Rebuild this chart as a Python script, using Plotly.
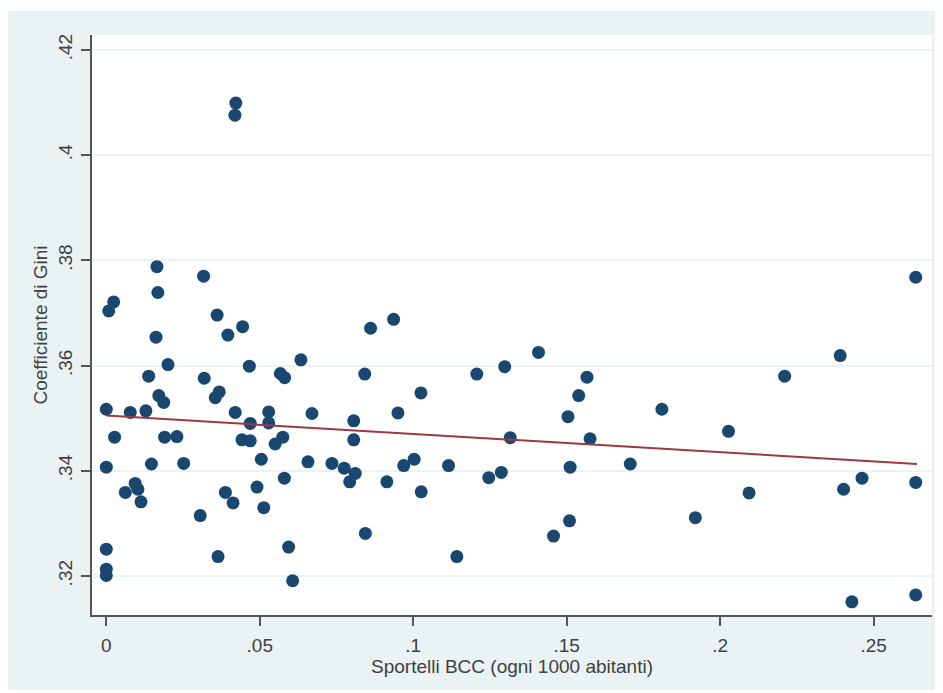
import plotly.graph_objects as go

# Sportelli BCC (ogni 1000 abitanti)
sportelli = [
    0.0165, 0.0317, 0.0024, 0.0008, 0.0168, 0.0361, 0.0444, 0.0396, 0.0162, 0.0861,
    0.0201, 0.0466, 0.0634, 0.0138, 0.0319, 0.0567, 0.0581, 0.0842, 0.0171, 0.0187,
    0.0368, 0.0355, 0.0000, 0.0078, 0.0129, 0.0420, 0.0529, 0.0670, 0.0806, 0.0469,
    0.0529, 0.0027, 0.0190, 0.0230, 0.0442, 0.0469, 0.0550, 0.0575, 0.0806, 0.0000,
    0.0147, 0.0252, 0.0505, 0.0657, 0.0735, 0.0775, 0.0811, 0.0793, 0.0062, 0.0094,
    0.0103, 0.0113, 0.0306, 0.0388, 0.0413, 0.0491, 0.0513, 0.0580, 0.0844, 0.0000,
    0.0000, 0.0000, 0.0364, 0.0594, 0.0607, 0.0936, 0.1408, 0.1207, 0.1298, 0.1566,
    0.1539, 0.1025, 0.0950, 0.1504, 0.1316, 0.1576, 0.0914, 0.0969, 0.1003, 0.1026,
    0.1115, 0.1142, 0.1246, 0.1287, 0.1511, 0.1457, 0.1509, 0.1707, 0.2637, 0.2391,
    0.2210, 0.1810, 0.2027, 0.2094, 0.1919, 0.2402, 0.2462, 0.2637, 0.2429, 0.2637,
    0.0422, 0.0419,
]

# Coefficiente di Gini
gini = [
    0.3788, 0.3770, 0.3721, 0.3704, 0.3739, 0.3696, 0.3674, 0.3658, 0.3654, 0.3671,
    0.3602, 0.3599, 0.3611, 0.3580, 0.3576, 0.3585, 0.3577, 0.3584, 0.3543, 0.3530,
    0.3550, 0.3539, 0.3517, 0.3511, 0.3514, 0.3511, 0.3512, 0.3509, 0.3495, 0.3490,
    0.3491, 0.3464, 0.3464, 0.3465, 0.3459, 0.3457, 0.3451, 0.3464, 0.3459, 0.3407,
    0.3413, 0.3414, 0.3422, 0.3417, 0.3414, 0.3405, 0.3395, 0.3379, 0.3359, 0.3376,
    0.3365, 0.3341, 0.3315, 0.3359, 0.3339, 0.3369, 0.3330, 0.3386, 0.3281, 0.3251,
    0.3213, 0.3201, 0.3237, 0.3255, 0.3191, 0.3688, 0.3625, 0.3584, 0.3598, 0.3578,
    0.3543, 0.3548, 0.3510, 0.3503, 0.3463, 0.3461, 0.3379, 0.3410, 0.3422, 0.3360,
    0.3410, 0.3237, 0.3387, 0.3397, 0.3407, 0.3276, 0.3305, 0.3413, 0.3768, 0.3619,
    0.3580, 0.3517, 0.3475, 0.3358, 0.3311, 0.3365, 0.3386, 0.3378, 0.3151, 0.3164,
    0.4099, 0.4076,
]

# Fitted line
fit_x = [0.0, 0.2641]
fit_y = [0.3505, 0.3413]

x_tickvals = [0, 0.05, 0.1, 0.15, 0.2, 0.25]
x_ticktext = ["0", ".05", ".1", ".15", ".2", ".25"]
y_tickvals = [0.32, 0.34, 0.36, 0.38, 0.40, 0.42]
y_ticktext = [".32", ".34", ".36", ".38", ".4", ".42"]

x_title = "Sportelli BCC (ogni 1000 abitanti)"
y_title = "Coefficiente di Gini"

NAVY = "#1a476f"
MAROON = "#a0393f"
BG = "#eaf2f3"
TXT = "#404040"
FONT = "Liberation Sans, Arial, sans-serif"
FS = 19

fig = go.Figure()
fig.add_trace(go.Scatter(
    x=sportelli, y=gini, mode="markers",
    marker=dict(color=NAVY, size=13, line=dict(width=0)),
    showlegend=False, hoverinfo="x+y",
))
fig.add_trace(go.Scatter(
    x=fit_x, y=fit_y, mode="lines",
    line=dict(color=MAROON, width=2),
    showlegend=False, hoverinfo="skip",
))

# The page body adds an 8px offset; figure pixel coords below are page - 8
W, H = 935, 685
L, R, T, B = 84, 924, 27, 607

def px_x(p):
    return (p - L) / (R - L)

def px_y(p):
    return (B - p) / (B - T)

fig.update_layout(
    width=W, height=H,
    margin=dict(l=L, r=W - R, t=T, b=H - B, pad=0),
    paper_bgcolor="white",
    plot_bgcolor="white",
    font=dict(family=FONT, size=FS, color=TXT),
    shapes=[
        dict(type="rect", xref="paper", yref="paper",
             x0=px_x(0), x1=px_x(933), y0=px_y(682), y1=px_y(3),
             fillcolor=BG, line=dict(width=0), layer="below"),
        dict(type="rect", xref="paper", yref="paper",
             x0=0, x1=1, y0=0, y1=1,
             fillcolor="white", line=dict(width=0), layer="below"),
    ],
    xaxis=dict(
        range=[-0.00466, 0.2690],
        tickvals=x_tickvals, ticktext=x_ticktext,
        ticks="outside", ticklen=9, tickwidth=1.5, tickcolor="#555",
        ticklabelstandoff=3,
        showline=True, linecolor="#555", linewidth=1.5,
        showgrid=False, zeroline=False,
        tickfont=dict(size=FS, color=TXT),
        title=dict(text=x_title, font=dict(size=FS, color=TXT), standoff=0),
    ),
    yaxis=dict(
        range=[0.31259, 0.42285],
        tickvals=y_tickvals, ticktext=y_ticktext,
        tickangle=-90,
        ticks="outside", ticklen=9, tickwidth=1.5, tickcolor="#555",
        ticklabelstandoff=2,
        showline=True, linecolor="#555", linewidth=1.5,
        showgrid=True, gridcolor=BG, gridwidth=1.5,
        zeroline=False,
        tickfont=dict(size=FS, color=TXT),
        title=dict(text=y_title, font=dict(size=FS, color=TXT), standoff=2),
    ),
)

fig.write_html("out.html")
